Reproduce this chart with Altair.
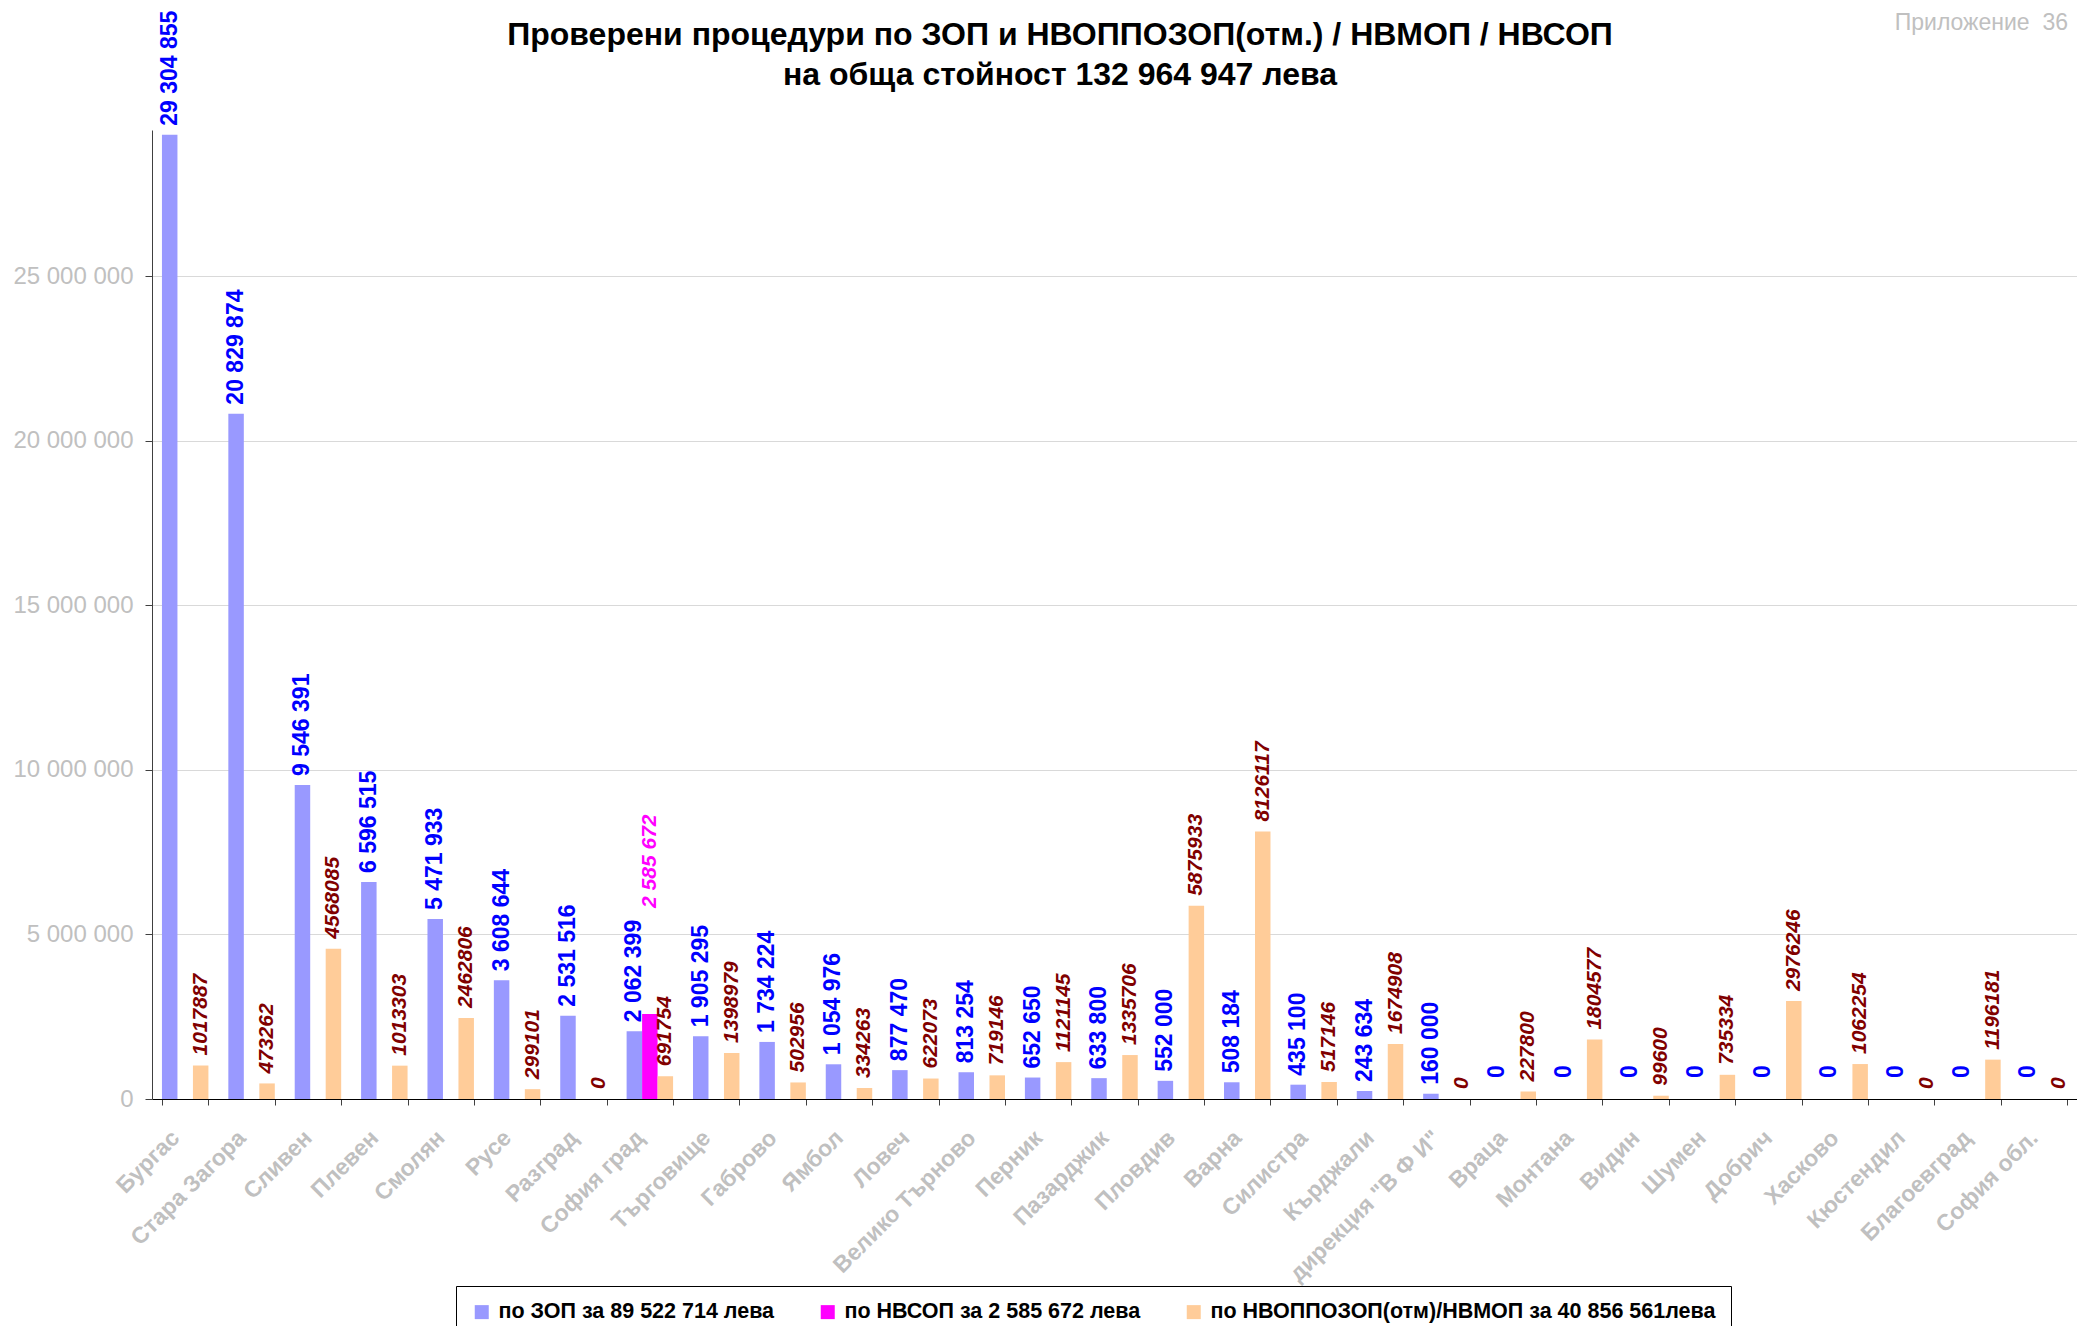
import altair as alt
import pandas as pd

categories = ["Бургас", "Стара Загора", "Сливен", "Плевен", "Смолян", "Русе", "Разград",
              "София град", "Търговище", "Габрово", "Ямбол", "Ловеч", "Велико Търново",
              "Перник", "Пазарджик", "Пловдив", "Варна", "Силистра", "Кърджали",
              'дирекция "В Ф И"', "Враца", "Монтана", "Видин", "Шумен", "Добрич",
              "Хасково", "Кюстендил", "Благоевград", "София обл."]

zop = [29304855, 20829874, 9546391, 6596515, 5471933, 3608644, 2531516, 2062399, 1905295,
       1734224, 1054976, 877470, 813254, 652650, 633800, 552000, 508184, 435100, 243634,
       160000, 0, 0, 0, 0, 0, 0, 0, 0, 0]

nvsop = [0, 0, 0, 0, 0, 0, 0, 2585672, 0, 0, 0, 0, 0, 0, 0, 0, 0, 0, 0,
         0, 0, 0, 0, 0, 0, 0, 0, 0, 0]

nvoppozop = [1017887, 473262, 4568085, 1013303, 2462806, 299101, 0, 691754, 1398979,
             502956, 334263, 622073, 719146, 1121145, 1335706, 5875933, 8126117, 517146,
             1674908, 0, 227800, 1804577, 99600, 735334, 2976246, 1062254, 0, 1196181, 0]

series_names = ["по ЗОП за 89 522 714 лева",
                "по НВСОП за 2 585 672 лева",
                "по НВОППОЗОП(отм)/НВМОП за 40 856 561лева"]
series_colors = ["#9999FF", "#FF00FF", "#FFCC99"]

title_line1 = ["Проверени процедури по ЗОП и НВОППОЗОП(отм.) / НВМОП / НВСОП"]
title_line2 = ["на обща стойност 132 964 947 лева"]
annex_text = ["Приложение\u00a0 36"]
y_ticks = [0, 5000000, 10000000, 15000000, 20000000, 25000000]


def spaced(v):
    return f"{v:,}".replace(",", " ")


rows = []
for i, c in enumerate(categories):
    rows.append({"cat": c, "series": series_names[0], "key": "zop", "value": zop[i],
                 "label": spaced(zop[i])})
    rows.append({"cat": c, "series": series_names[1], "key": "nvsop", "value": nvsop[i],
                 "label": spaced(nvsop[i])})
    rows.append({"cat": c, "series": series_names[2], "key": "nvo", "value": nvoppozop[i],
                 "label": str(nvoppozop[i])})
df = pd.DataFrame(rows)

FONT = "Liberation Sans"

x_enc = alt.X("cat:N", sort=categories, title=None,
              scale=alt.Scale(paddingInner=0.3, paddingOuter=0.15),
              axis=alt.Axis(labelAngle=315, labelAlign="right", labelBaseline="alphabetic",
                            labelFont=FONT, labelFontSize=23, labelFontWeight="bold",
                            labelColor="#c0c0c0", labelPadding=34, labelOffset=-5,
                            tickSize=6, tickBand="extent", tickColor="#404040",
                            domainColor="#000000", grid=False, labelLimit=0,
                            labelOverlap=False))
xo_enc = alt.XOffset("series:N", sort=series_names,
                     scale=alt.Scale(domain=series_names, paddingInner=0, paddingOuter=0))
y_enc = alt.Y("value:Q", title=None,
              scale=alt.Scale(domain=[0, 29450000], nice=False, zero=True),
              axis=alt.Axis(values=y_ticks,
                            labelExpr="replace(replace(format(datum.value, ','), ',', ' '), ',', ' ')",
                            labelFont=FONT, labelFontSize=24, labelColor="#c0c0c0",
                            labelPadding=12, tickSize=7, tickColor="#404040",
                            domainColor="#404040", grid=True, gridColor="#d9d9d9"))

base = alt.Chart(df)

bars = base.mark_bar().encode(
    x=x_enc, xOffset=xo_enc, y=y_enc,
    color=alt.Color("series:N",
                    scale=alt.Scale(domain=series_names, range=series_colors),
                    legend=alt.Legend(title=None, orient="none", legendX=304, legendY=1156,
                                      direction="horizontal", columns=3,
                                      strokeColor="#000000", fillColor="#FFFFFF",
                                      padding=15, columnPadding=42, symbolType="square",
                                      symbolSize=196, symbolStrokeWidth=0,
                                      labelFont=FONT, labelFontSize=21.5,
                                      labelFontWeight="bold", labelColor="#000000",
                                      labelOffset=6, labelLimit=0)))

txt_enc = dict(x=x_enc, xOffset=xo_enc, y=y_enc, text="label:N")

t_blue = base.transform_filter("datum.key == 'zop' && datum.value > 0").mark_text(
    angle=270, align="left", baseline="middle", dx=9, font=FONT, fontSize=23,
    fontWeight="bold", color="#0000FF").encode(**txt_enc)

t_blue0 = base.transform_filter("datum.key == 'zop' && datum.value == 0").mark_text(
    angle=270, align="left", baseline="middle", dx=21, font=FONT, fontSize=23,
    fontWeight="bold", color="#0000FF").encode(**txt_enc)

t_orange = base.transform_filter("datum.key == 'nvo'").mark_text(
    angle=270, align="left", baseline="middle", dx=10, font=FONT, fontSize=21,
    fontStyle="italic", fontWeight="bold", color="#800000").encode(**txt_enc)

t_mag = base.transform_filter("datum.key == 'nvsop' && datum.value > 0").mark_text(
    angle=270, align="left", baseline="middle", dx=106, font=FONT, fontSize=21,
    fontStyle="italic", fontWeight="bold", color="#FF00FF").encode(**txt_enc)

annex = alt.Chart(pd.DataFrame({"t": annex_text})).mark_text(
    align="right", baseline="middle", font=FONT, fontSize=23, color="#c0c0c0").encode(
    text="t:N", x=alt.value(1916), y=alt.value(-107))

title1 = alt.Chart(pd.DataFrame({"t": title_line1})).mark_text(
    align="center", baseline="middle", font=FONT, fontSize=32, fontWeight="bold",
    color="#000000").encode(text="t:N", x=alt.value(908), y=alt.value(-95))

title2 = alt.Chart(pd.DataFrame({"t": title_line2})).mark_text(
    align="center", baseline="middle", font=FONT, fontSize=32, fontWeight="bold",
    color="#000000").encode(text="t:N", x=alt.value(908), y=alt.value(-55))

chart = alt.layer(bars, t_blue, t_blue0, t_orange, t_mag, annex, title1, title2).properties(
    width=1925, height=969,
    autosize=alt.AutoSizeParams(type="none"),
    padding={"left": 144, "top": 122, "right": 0, "bottom": 227},
).configure(background="#FFFFFF").configure_view(strokeWidth=0)

chart.save("out.html", embed_options={"renderer": "svg", "actions": False})
